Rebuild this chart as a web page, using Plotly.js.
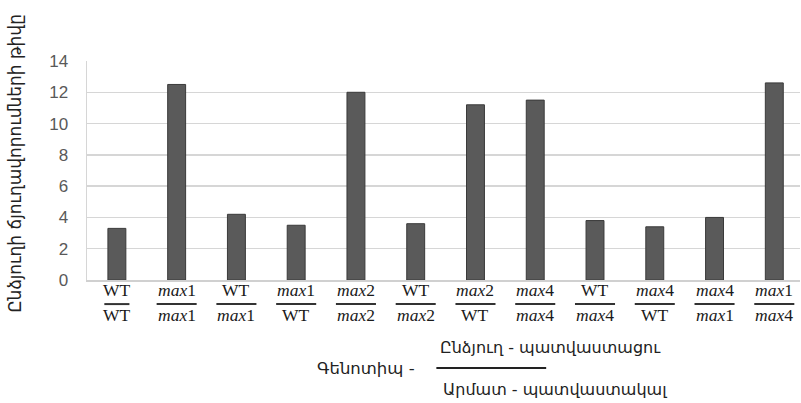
<!DOCTYPE html>
<html><head><meta charset="utf-8">
<script src="https://cdn.plot.ly/plotly-3.0.1.min.js"></script>
<style>html,body{margin:0;padding:0;background:#fff}#chart{width:801px;height:403px}</style>
</head><body><div id="chart"></div>
<script>
// Data
const numerators   = ["WT","max1","WT","max1","max2","WT","max2","max4","WT","max4","max4","max1"];
const denominators = ["WT","max1","max1","WT","max2","max2","WT","max4","max4","WT","max1","max4"];
const branchCounts = [3.3, 12.5, 4.2, 3.5, 12.0, 3.6, 11.2, 11.5, 3.8, 3.4, 4.0, 12.6];
const yTickVals = [0,2,4,6,8,10,12,14];
const yTitle = "Ընձյուղի ճյուղավորումների թիվը";
const xTitleLead = "Գենոտիպ -";
const xTitleTop = "Ընձյուղ - պատվաստացու";
const xTitleBottom = "Արմատ - պատվաստակալ";

const idx = numerators.map((_, i) => i);
const fmt = s => s.startsWith("max") ? "<i>max</i>" + s.slice(3) : s;
const serif = 'Liberation Serif, DejaVu Serif, serif';
const sans = 'DejaVu Sans, Noto Sans, sans-serif';

const annotations = [];
const shapes = [];
idx.forEach(i => {
  annotations.push({x: i, y: -0.046, xref: 'x', yref: 'paper', text: fmt(numerators[i]), showarrow: false,
    xanchor: 'center', yanchor: 'middle', font: {family: serif, size: 17.5, color: '#1a1a1a'}});
  annotations.push({x: i, y: -0.158, xref: 'x', yref: 'paper', text: fmt(denominators[i]), showarrow: false,
    xanchor: 'center', yanchor: 'middle', font: {family: serif, size: 17.5, color: '#1a1a1a'}});
  const wide = numerators[i].startsWith("max") || denominators[i].startsWith("max");
  const hw = wide ? 0.335 : 0.21;
  shapes.push({type: 'line', xref: 'x', yref: 'paper', x0: i - hw, x1: i + hw, y0: -0.11, y1: -0.11,
    line: {color: '#333', width: 2}});
});

annotations.push({x: -0.101, y: 0.535, xref: 'paper', yref: 'paper', text: yTitle, textangle: -90, showarrow: false,
  xanchor: 'center', yanchor: 'middle', font: {family: sans, size: 17, color: '#222'}});
annotations.push({x: 0.391, y: -0.402, xref: 'paper', yref: 'paper', text: xTitleLead, showarrow: false,
  xanchor: 'center', yanchor: 'middle', font: {family: sans, size: 16.5, color: '#222'}});
annotations.push({x: 0.65, y: -0.31, xref: 'paper', yref: 'paper', text: xTitleTop, showarrow: false,
  xanchor: 'center', yanchor: 'middle', font: {family: sans, size: 16, color: '#222'}});
annotations.push({x: 0.657, y: -0.502, xref: 'paper', yref: 'paper', text: xTitleBottom, showarrow: false,
  xanchor: 'center', yanchor: 'middle', font: {family: sans, size: 16, color: '#222'}});
shapes.push({type: 'line', xref: 'paper', yref: 'paper', x0: 0.490, x1: 0.644, y0: -0.402, y1: -0.402,
  line: {color: '#222', width: 2}});

const trace = {
  type: 'bar', x: idx, y: branchCounts,
  marker: {color: '#5a5a5a', line: {color: '#3a3a3a', width: 1}},
  hoverinfo: 'skip'
};

const layout = {
  width: 801, height: 403,
  margin: {l: 87, r: 1, t: 61, b: 123, pad: 0},
  paper_bgcolor: '#fff', plot_bgcolor: '#fff',
  showlegend: false,
  bargap: 0.7,
  xaxis: {range: [-0.5, 11.43], showticklabels: false, showgrid: false, zeroline: false,
    showline: true, linecolor: '#d0d0d0', linewidth: 1.5, fixedrange: true},
  yaxis: {range: [0, 14], tickvals: yTickVals, showgrid: true, gridcolor: '#d6d6d6', gridwidth: 1.5,
    zeroline: false, showline: true, linecolor: '#d6d6d6', linewidth: 1.5, ticklabelstandoff: 14,
    tickfont: {family: 'Liberation Sans, Arial, sans-serif', size: 17, color: '#595959'}, fixedrange: true},
  annotations: annotations,
  shapes: shapes
};

Plotly.newPlot('chart', [trace], layout, {displayModeBar: false, staticPlot: true});
</script></body></html>
